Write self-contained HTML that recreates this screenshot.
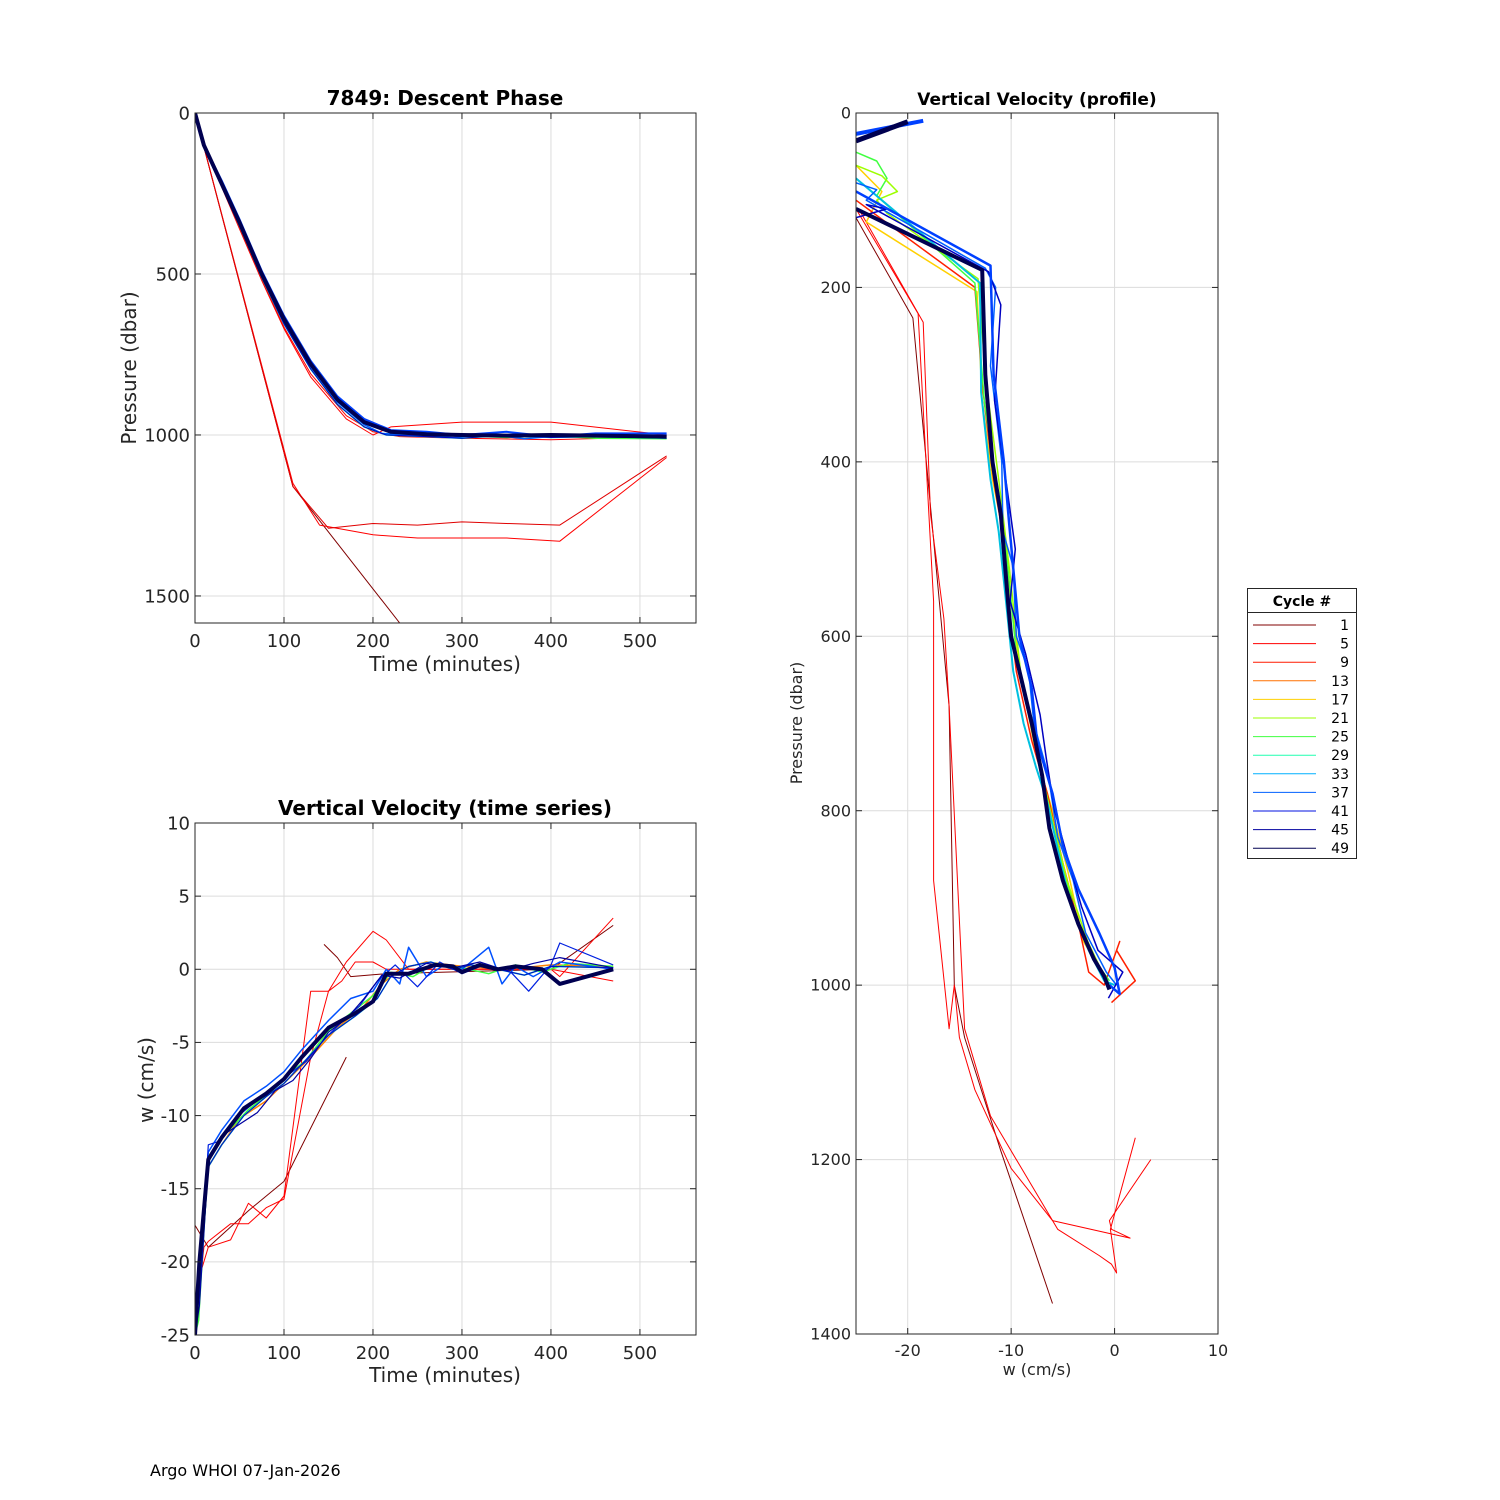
<!DOCTYPE html>
<html><head><meta charset="utf-8"><style>
body{margin:0;background:#fff}
svg{display:block;font-family:"DejaVu Sans","Liberation Sans",sans-serif}
</style></head><body>
<svg id="fig" width="1500" height="1500" viewBox="0 0 1500 1500"></svg>
<script>
// ---- Descent phase: time (min), pressure (dbar)
const descMainT=[0,10,30,50,75,100,130,160,190,220,260,300,350,400,450,530];
const descMainP=[0,100,220,340,500,640,780,890,960,990,998,1000,1002,1000,1002,1005];
const descBlueT=[0,10,30,50,75,100,130,160,190,220,260,300,350,400,450,530];
const descBlueP=[0,100,210,330,490,630,770,880,950,985,990,1000,990,1005,995,995];
const descBlue2T=[0,10,30,50,75,100,130,160,190,210,250,290,330,370,420,470,530];
const descBlue2P=[0,102,218,345,505,648,788,898,968,995,1003,1008,998,1012,1000,1006,1000];
const descCyanT=[0,10,30,50,75,100,130,160,190,215,260,300,350,400,450,530];
const descCyanP=[0,105,225,350,510,655,795,905,975,1000,1005,1010,1000,1008,1005,1010];
const descGreenT=[0,10,30,50,75,100,130,160,190,215,260,300,350,400,450,530];
const descGreenP=[0,100,215,335,495,635,775,885,955,985,995,1002,1008,1002,1010,1012];
const descRedT=[0,10,30,50,75,100,130,170,200,220,300,400,530];
const descRedP=[0,100,230,360,520,670,820,950,1000,975,960,960,1000];
const descRed2T=[0,10,30,50,75,100,130,170,200,230,300,400,530];
const descRed2P=[0,100,225,355,515,665,810,940,990,1005,1010,1015,1005];
const descOut1T=[0,110,140,200,250,300,350,410,530];
const descOut1P=[0,1150,1280,1310,1320,1320,1320,1330,1070];
const descOut2T=[0,110,150,200,250,300,350,410,530];
const descOut2P=[0,1160,1290,1275,1280,1270,1275,1280,1065];
const descOut3T=[0,110,230];
const descOut3P=[0,1160,1584];
// ---- Velocity time series: time (min), w (cm/s)
const vtMainT=[0,5,15,30,55,80,100,120,150,180,200,215,240,270,290,300,320,340,360,390,410,470];
const vtMainW=[-25,-20,-13,-11.5,-9.5,-8.5,-7.5,-6,-4,-3,-2.2,-0.3,-0.3,0.3,0.2,-0.2,0.3,0.0,0.2,0.0,-1,0];
const vtBlueT=[0,5,15,30,55,80,100,120,150,175,200,215,230,240,260,280,300,330,345,360,380,410,470];
const vtBlueW=[-25,-21,-12.5,-11,-9,-8,-7,-5.5,-3.5,-2,-1.5,0,-1,1.5,-0.5,0.3,0,1.5,-1,0.2,-0.5,0.5,0];
const vtBlue2T=[0,5,15,25,45,65,85,105,125,145,165,185,205,225,250,275,300,325,355,375,400,410,470];
const vtBlue2W=[-25,-22,-12,-11.8,-10.2,-9.2,-8.2,-7.2,-6.3,-4.8,-3.6,-2.5,-0.8,0.3,-1.2,0.5,-0.3,0.3,-0.2,-1.5,0.3,1.8,0.3];
const vtBlue3T=[0,5,15,30,50,70,90,110,130,150,170,190,210,230,260,290,320,350,380,410,470];
const vtBlue3W=[-25,-23,-13.2,-11.4,-10.6,-9.8,-8.3,-7.6,-6.1,-4.3,-3.4,-2.0,-0.4,-0.6,0.4,0.1,0.5,-0.1,0.4,0.8,0.1];
const vtCyanT=[0,5,15,30,55,80,100,120,150,180,205,220,240,265,290,310,340,370,400,470];
const vtCyanW=[-25,-22,-13.5,-12,-10,-8.7,-7.8,-6.5,-4.5,-3.2,-2,-0.5,0.2,0.5,0,0.3,0,-0.4,0.2,0.1];
const vtGreenT=[0,4,15,35,60,85,105,125,150,175,200,220,245,270,300,330,360,390,420,470];
const vtGreenW=[-25,-24,-12.8,-11.2,-9.6,-8.4,-7.2,-6.2,-4.2,-3.0,-1.8,-0.2,-0.5,0.4,0.1,-0.3,0.3,-0.2,0.4,0.2];
const vtOrangeT=[0,5,15,30,50,80,100,130,160,190,210,230,260,300,350,400,470];
const vtOrangeW=[-25,-21,-13.5,-12,-10.2,-9,-7.8,-6,-4,-2.5,-1,0,0.5,0.2,0,0.3,0.2];
const vtRed1T=[0,10,15,40,60,80,100,130,150,165,180,200,215,240,270,300,400,410,470];
const vtRed1W=[-25,-19,-18.6,-17.4,-17.4,-16.3,-15.7,-6,-1.5,-0.8,0.5,0.5,0,0,0,0,0,-0.5,3.5];
const vtRed2T=[0,5,15,40,60,80,100,130,150,170,200,215,240,300,400,470];
const vtRed2W=[-25,-21,-19,-18.5,-16,-17,-15.5,-1.5,-1.5,0.5,2.6,2,0,0,0,-0.8];
const vtRed3T=[0,15,60,100,170];
const vtRed3W=[-17.5,-19,-16.5,-14.5,-6];
const vtRed4T=[145,160,175,215,400,470];
const vtRed4W=[1.7,0.8,-0.5,-0.3,0,3];
// ---- Velocity profile: w (cm/s), pressure (dbar)
const vpTop1W=[-25,-20];
const vpTop1P=[32,10];
const vpTop2W=[-25,-18.5];
const vpTop2P=[24,9];
const vpMainW=[-25,-12.8,-12.5,-11.8,-11,-10.3,-10,-9,-8,-7,-6.3,-5,-3.5,-2,-1,-0.5];
const vpMainP=[110,180,300,400,460,560,600,650,700,760,820,880,930,970,990,1005];
const vpBlueW=[-25,-12,-11.7,-10.7,-10.2,-9.5,-9.2,-8,-7.5,-6,-5,-3.5,-1.5,0,0.5,-0.5];
const vpBlueP=[90,175,300,400,470,560,600,660,720,780,840,890,940,980,1010,1000];
const vpBlue2W=[-25,-23,-24,-12.5,-11.5,-12,-10.9,-10.8,-9.8,-9.5,-8.3,-7.8,-6.4,-5.5,-4,-2.8,-0.8,0.2];
const vpBlue2P=[80,88,100,178,200,290,400,480,520,600,640,700,760,830,880,940,985,1000];
const vpBlue3W=[-25,-22,-24,-12.2,-11,-11.6,-10.4,-9.6,-10.1,-8.6,-7.2,-6.6,-5.8,-4.4,-3.2,-1.6,0.8,-0.6];
const vpBlue3P=[120,110,105,182,220,330,430,500,560,620,690,740,800,860,910,960,985,1015];
const vpCyanW=[-25,-13,-12.9,-12,-11.2,-10.5,-9.8,-8.8,-7.6,-6.5,-5.2,-4.2,-2.5,-1,0];
const vpCyanP=[75,195,320,420,480,560,640,700,750,790,860,910,960,995,1000];
const vpGreenW=[-25,-23,-22,-23,-13.5,-12.6,-11.5,-10.5,-9.5,-8.5,-7,-5.5,-3.8,-2,-0.5];
const vpGreenP=[45,55,75,95,195,330,420,500,620,680,760,840,920,970,995];
const vpGreen2W=[-25,-22.5,-21,-23,-22,-13.2,-12.4,-11.2,-10.2,-9.1,-7.8,-6.2,-4.6,-2.6,-1.2];
const vpGreen2P=[60,72,90,100,115,190,310,420,520,640,720,800,880,950,985];
const vpYellowW=[-25,-22.5,-24,-13.3,-12.8,-11.8,-10.8,-10,-9,-7.5,-6,-4.5,-3,-1];
const vpYellowP=[60,90,125,205,330,420,480,560,650,740,800,870,950,990];
const vpRedW=[-25,-13.5,-12.7,-11.7,-11,-10.3,-9.5,-8,-6.5,-5,-3.5,-2.5,-1,0.5,0.2,2,-0.3];
const vpRedP=[100,200,320,420,470,560,640,720,780,860,930,985,1000,950,960,995,1020];
const vpOut1W=[-25,-19,-18,-17.5,-17.5,-16,-15.5,-15,-13.5,-10,-6,1.5,-0.3,-0.5,3.5];
const vpOut1P=[110,230,450,560,880,1050,1000,1060,1120,1210,1270,1290,1280,1270,1200];
const vpOut2W=[-24.5,-18.5,-17.8,-16.5,-16,-14.5,-12,-9,-5.5,-1.5,-0.3,0.2,-0.4,2];
const vpOut2P=[115,240,460,580,680,1050,1150,1210,1280,1310,1320,1330,1280,1175];
const vpOut3W=[-25,-19.5,-16,-15.5,-14.5,-11,-6];
const vpOut3P=[120,235,680,1000,1060,1190,1365];
// ---- legend
const legCycles=["1","5","9","13","17","21","25","29","33","37","41","45","49"];
const legColors=["#800000","#ff0000","#ff1a00","#ff7000","#ffd000","#9cff00","#40ff40","#20ffb0","#00b0ff","#0060ff","#0010e0","#0000a0","#000050"];

const NS="http://www.w3.org/2000/svg";
const svg=document.getElementById('fig');
function el(tag,attrs,parent){const e=document.createElementNS(NS,tag);for(const k in attrs)e.setAttribute(k,attrs[k]);(parent||svg).appendChild(e);return e;}
function txt(x,y,s,attrs,parent){const t=el('text',Object.assign({x:x,y:y},attrs),parent);t.textContent=s;return t;}

function makeAxes(name,L,T,R,B,xmin,xmax,ymin,ymax,yRev){
  const g=el('g',{});
  
  
  const sx=v=>L+(v-xmin)/(xmax-xmin)*(R-L);
  const sy=yRev?(v=>T+(v-ymin)/(ymax-ymin)*(B-T)):(v=>B-(v-ymin)/(ymax-ymin)*(B-T));
  const clipId='c'+name;
  const cp=el('clipPath',{id:clipId},g);el('rect',{x:L,y:T,width:R-L,height:B-T},cp);
  const gridG=el('g',{},g);
  const plot=el('g',{'clip-path':'url(#'+clipId+')'},g);
  return {g,sx,sy,plot,gridG,L,T,R,B};
}
function grid(ax,xt,yt,xlab,ylab,fs){
  const gg=ax.gridG;
  
  
  xt.forEach((v,i)=>{const x=ax.sx(v);
    el('line',{x1:x,y1:ax.T,x2:x,y2:ax.B,stroke:'#dcdcdc','stroke-width':1},gg);
    el('line',{x1:x,y1:ax.B,x2:x,y2:ax.B-6,stroke:'#262626'},ax.g);
    el('line',{x1:x,y1:ax.T,x2:x,y2:ax.T+6,stroke:'#262626'},ax.g);
    const t=txt(x,ax.B+fs+6,xlab[i],{'font-size':fs,'text-anchor':'middle',fill:'#262626'},ax.g);
    
    
  });
  yt.forEach((v,i)=>{const y=ax.sy(v);
    el('line',{x1:ax.L,y1:y,x2:ax.R,y2:y,stroke:'#dcdcdc','stroke-width':1},gg);
    el('line',{x1:ax.L,y1:y,x2:ax.L+6,y2:y,stroke:'#262626'},ax.g);
    el('line',{x1:ax.R,y1:y,x2:ax.R-6,y2:y,stroke:'#262626'},ax.g);
    const t=txt(ax.L-5,y+fs*0.35,ylab[i],{'font-size':fs,'text-anchor':'end',fill:'#262626'},ax.g);
    
    
  });
}
function frame(ax){el('rect',{x:ax.L,y:ax.T,width:ax.R-ax.L,height:ax.B-ax.T,fill:'none',stroke:'#262626','stroke-width':1},ax.g);}
function line(ax,xs,ys,color,w,name){
  const pts=xs.map((x,i)=>ax.sx(x).toFixed(1)+','+ax.sy(ys[i]).toFixed(1)).join(' ');
  const p=el('polyline',{points:pts,fill:'none',stroke:color,'stroke-width':w,'stroke-linejoin':'round'},ax.plot);
  
  
}

// Panel 1
const a1=makeAxes('descent-phase-axes',195,113,696,623,0,563,0,1584,true);
grid(a1,[0,100,200,300,400,500],[0,500,1000,1500],['0','100','200','300','400','500'],['0','500','1000','1500'],18);
line(a1,descOut3T,descOut3P,'#800000',1,'descent-cycle-1');
line(a1,descOut1T,descOut1P,'#ff0000',1,'descent-cycle-5');
line(a1,descOut2T,descOut2P,'#e00000',1,'descent-cycle-9');
line(a1,descRedT,descRedP,'#ff0000',1,'descent-red');
line(a1,descRed2T,descRed2P,'#ff0000',1,'descent-red-2');
line(a1,descGreenT,descGreenP,'#40ff40',1.5,'descent-green');
line(a1,descCyanT,descCyanP,'#00e0c0',1.5,'descent-cyan');
line(a1,descBlue2T,descBlue2P,'#0060ff',1.5,'descent-blue-2');
line(a1,descBlueT,descBlueP,'#0040ff',2,'descent-blue');
line(a1,descCyanT,descCyanP,'#0000c0',1,'descent-dark-blue');
line(a1,descMainT,descMainP,'#000050',4,'descent-cycle-49');
frame(a1);
txt(445,105,'7849: Descent Phase',{'font-size':20,'font-weight':'bold','text-anchor':'middle'});
txt(445,671,'Time (minutes)',{'font-size':20,'text-anchor':'middle',fill:'#262626'});
txt(0,0,'Pressure (dbar)',{'font-size':20,'text-anchor':'middle',fill:'#262626',transform:'translate(136,368) rotate(-90)'});

// Panel 2
const a2=makeAxes('velocity-time-axes',195,823,696,1335,0,563,-25,10,false);
grid(a2,[0,100,200,300,400,500],[-25,-20,-15,-10,-5,0,5,10],['0','100','200','300','400','500'],['-25','-20','-15','-10','-5','0','5','10'],18);
line(a2,vtRed3T,vtRed3W,'#800000',1,'vt-cycle-1');
line(a2,vtRed4T,vtRed4W,'#800000',1,'vt-cycle-1b');
line(a2,vtRed1T,vtRed1W,'#ff0000',1,'vt-cycle-5');
line(a2,vtRed2T,vtRed2W,'#ff0000',1,'vt-cycle-9');
line(a2,vtOrangeT,vtOrangeW,'#ff8000',1.5,'vt-orange');
line(a2,vtGreenT,vtGreenW,'#40ff40',1.5,'vt-green');
line(a2,vtCyanT,vtCyanW,'#00c0d0',1.5,'vt-cyan');
line(a2,vtBlueT,vtBlueW,'#0050ff',1.5,'vt-blue');
line(a2,vtBlue2T,vtBlue2W,'#0020e0',1.2,'vt-blue-2');
line(a2,vtBlue3T,vtBlue3W,'#0000a0',1.2,'vt-blue-3');
line(a2,vtCyanT,vtCyanW,'#0010c0',1,'vt-dark-blue');
line(a2,vtMainT,vtMainW,'#000050',4,'vt-cycle-49');
frame(a2);
txt(445,815,'Vertical Velocity (time series)',{'font-size':20,'font-weight':'bold','text-anchor':'middle'});
txt(445,1382,'Time (minutes)',{'font-size':20,'text-anchor':'middle',fill:'#262626'});
txt(0,0,'w (cm/s)',{'font-size':20,'text-anchor':'middle',fill:'#262626',transform:'translate(153,1080) rotate(-90)'});

// Panel 3
const a3=makeAxes('velocity-profile-axes',856,113,1218,1334,-25,10,0,1400,true);
grid(a3,[-20,-10,0,10],[0,200,400,600,800,1000,1200,1400],['-20','-10','0','10'],['0','200','400','600','800','1000','1200','1400'],16);
line(a3,vpOut3W,vpOut3P,'#800000',1,'vp-cycle-1');
line(a3,vpOut1W,vpOut1P,'#ff0000',1,'vp-cycle-5');
line(a3,vpOut2W,vpOut2P,'#ff0000',1,'vp-cycle-9');
line(a3,vpYellowW,vpYellowP,'#ffd000',1.5,'vp-yellow');
line(a3,vpRedW,vpRedP,'#ff2000',1.5,'vp-red');
line(a3,vpGreenW,vpGreenP,'#40ff40',1.5,'vp-green');
line(a3,vpGreen2W,vpGreen2P,'#9cff00',1.5,'vp-green-2');
line(a3,vpCyanW,vpCyanP,'#00c0e0',2,'vp-cyan');
line(a3,vpBlue2W,vpBlue2P,'#0060ff',1.5,'vp-blue-2');
line(a3,vpBlue3W,vpBlue3P,'#0000c0',1.5,'vp-blue-3');
line(a3,vpBlueW,vpBlueP,'#0040ff',2.5,'vp-blue');
line(a3,vpTop2W,vpTop2P,'#0040ff',4,'vp-top-blue');
line(a3,vpTop1W,vpTop1P,'#000050',5,'vp-top-navy');
line(a3,vpMainW,vpMainP,'#000050',4,'vp-cycle-49');
frame(a3);
txt(1037,105,'Vertical Velocity (profile)',{'font-size':17,'font-weight':'bold','text-anchor':'middle'});
txt(1037,1375,'w (cm/s)',{'font-size':16,'text-anchor':'middle',fill:'#262626'});
txt(0,0,'Pressure (dbar)',{'font-size':16,'text-anchor':'middle',fill:'#262626',transform:'translate(802,723) rotate(-90)'});

// Legend
const lg=el('g',{});


el('rect',{x:1247.5,y:588.5,width:109,height:270,fill:'#fff',stroke:'#262626'},lg);
el('line',{x1:1247.5,y1:612.5,x2:1356.5,y2:612.5,stroke:'#262626'},lg);
txt(1302,606,'Cycle #',{'font-size':14,'font-weight':'bold','text-anchor':'middle'},lg);
legCycles.forEach((c,i)=>{
  const y=625+i*18.6;
  const e=el('g',{},lg);
  
  
  el('line',{x1:1253,y1:y,x2:1316,y2:y,stroke:legColors[i],'stroke-width':1},e);
  txt(1349,y+5,c,{'font-size':14,'text-anchor':'end',fill:'#000'},e);
});
txt(150,1476,'Argo WHOI 07-Jan-2026',{'font-size':16,fill:'#000'});
</script>
</body></html>
